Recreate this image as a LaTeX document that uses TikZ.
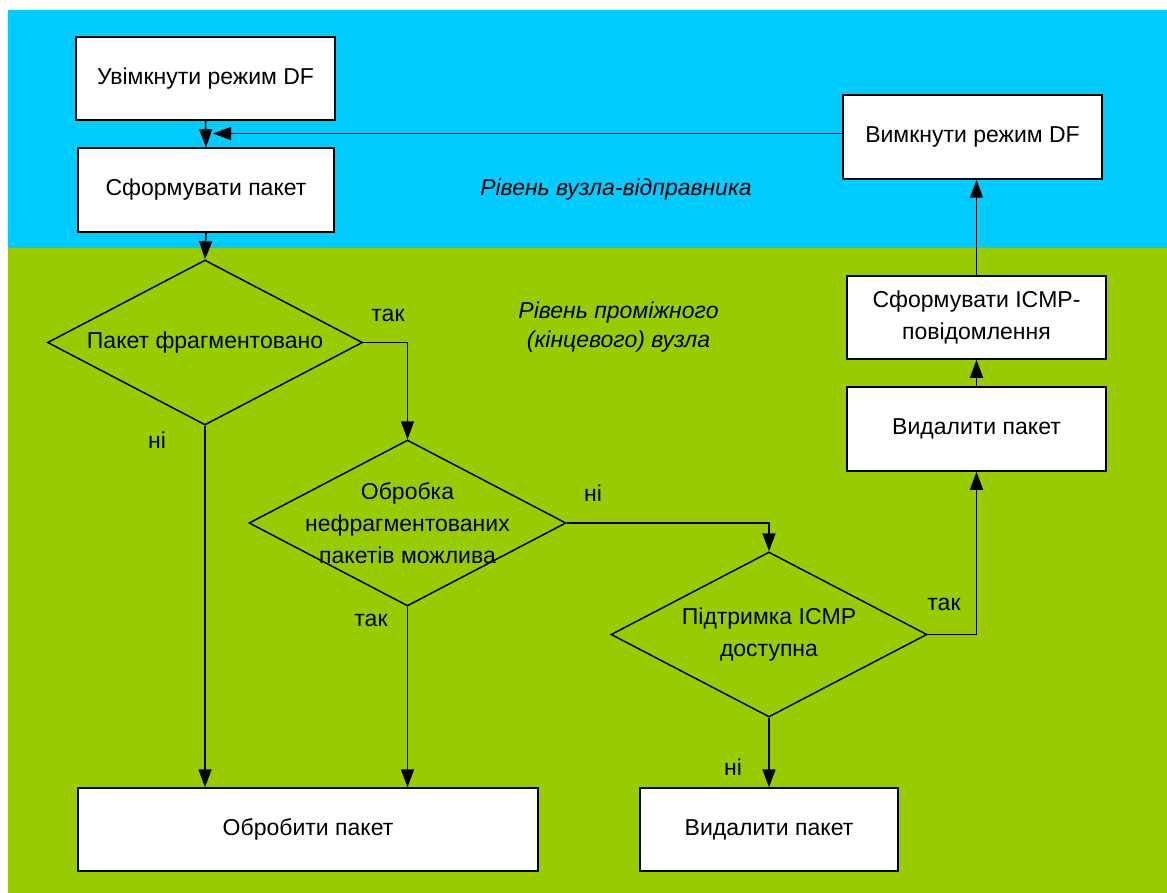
\documentclass[tikz,border=0pt]{standalone}
\usepackage{fontspec}
\setmainfont{Liberation Sans}
\usetikzlibrary{arrows.meta,shapes.geometric}
\definecolor{topband}{HTML}{00CCFF}
\definecolor{lowband}{HTML}{99CC00}
\begin{document}
\begin{tikzpicture}[x=1pt,y=-1pt,
  every node/.style={font=\fontsize{23}{32}\selectfont},
  stepbox/.style={draw=black,fill=white,line width=1.5pt,inner sep=0pt,align=center},
  decide/.style={draw=black,line width=1.5pt,diamond,inner sep=0pt,fill=none},
  lbl/.style={align=center},
  arr/.style={line width=1.5pt,-{Triangle[length=18pt,width=13pt]}},
  ln/.style={line width=1.5pt}]
\useasboundingbox (0,0) rectangle (1167,893);
\fill[white] (0,0) rectangle (1167,893);
\fill[topband] (8,10) rectangle (1167,248);
\fill[lowband] (8,248) rectangle (1167,893);

% boxes
\node[stepbox,minimum width=259pt,minimum height=83pt] (b1) at (205.5,78.5) {Увімкнути режим DF};
\node[stepbox,minimum width=256pt,minimum height=84pt] (b2) at (206,190) {Сформувати пакет};
\node[stepbox,minimum width=259pt,minimum height=84pt] (off) at (972.5,137) {Вимкнути режим DF};
\node[stepbox,minimum width=259pt,minimum height=83pt] (icmp) at (976.5,317.5) {Сформувати ICMP-\\повідомлення};
\node[stepbox,minimum width=259pt,minimum height=84pt] (del1) at (976.5,429) {Видалити пакет};
\node[stepbox,minimum width=460pt,minimum height=83pt] (proc) at (308,829.5) {Обробити пакет};
\node[stepbox,minimum width=258pt,minimum height=83pt] (del2) at (769,829.5) {Видалити пакет};

% diamonds
\node[decide,minimum width=315pt,minimum height=165pt] (d1) at (205,342.5) {};
\node[lbl] at (d1) {Пакет фрагментовано};
\node[decide,minimum width=317pt,minimum height=166pt] (d2) at (407.5,523) {};
\node[lbl] at (d2) {Обробка\\нефрагментованих\\пакетів можлива};
\node[decide,minimum width=316pt,minimum height=165pt] (d3) at (769,634.5) {};
\node[lbl] at (d3) {Підтримка ICMP\\доступна};

% level labels
\node[lbl,font=\fontsize{23}{29}\selectfont\itshape] (lv1) at (616,190) {Рівень вузла-відправника};
\node[lbl,font=\fontsize{23}{29}\selectfont\itshape] (lv2) at (618.5,327.5) {Рівень проміжного\\(кінцевого) вузла};

% branch labels
\node (t1) at (388,315) {так};
\node (n1) at (157,440) {ні};
\node (n2) at (593,493) {ні};
\node (t2) at (371,620) {так};
\node (n3) at (733,767) {ні};
\node (t3) at (944,604) {так};

% connectors
\coordinate (join) at (213,133.5);
\draw[arr] (b1.south) -- (b2.north);
\draw[arr] (off.west |- join) -- (join);
\draw[arr] (b2.south) -- (d1.north);
\draw[arr] (d1.east) -| (d2.north);
\draw[arr] (d1.south) -- (d1.south |- proc.north);
\draw[arr] (d2.east) -| (d3.north);
\draw[arr] (d2.south) -- (d2.south |- proc.north);
\draw[arr] (d3.south) -- (del2.north);
\draw[arr] (d3.east) -| (del1.south);
\draw[arr] (del1.north) -- (icmp.south);
\draw[arr] (icmp.north) -- (icmp.north |- off.south);
\end{tikzpicture}
\end{document}
